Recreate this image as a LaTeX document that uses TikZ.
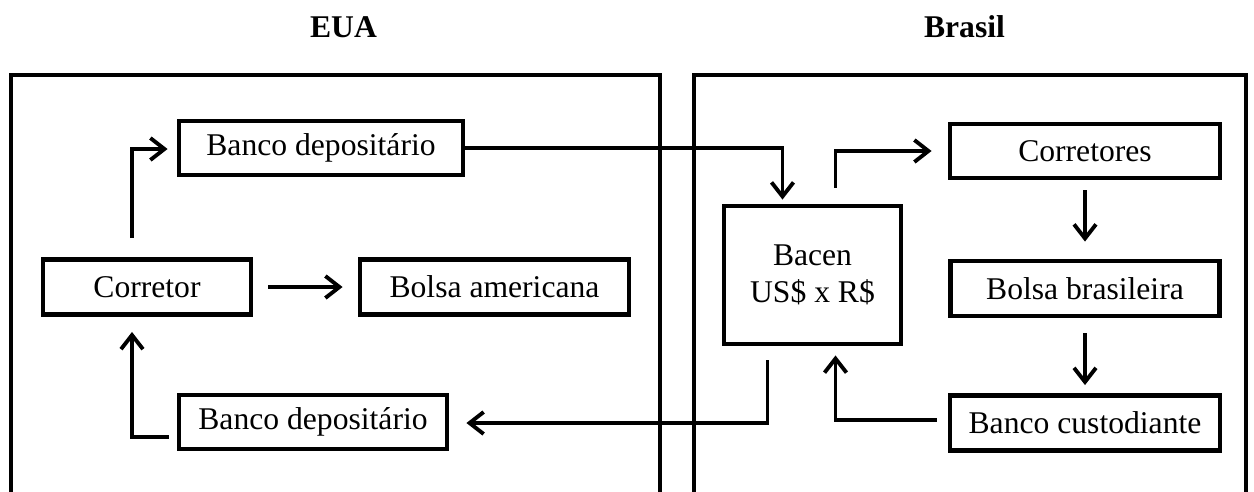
\documentclass[tikz,border=0pt]{standalone}
\usepackage{fontspec}
\setmainfont{Liberation Serif}
\usetikzlibrary{arrows.meta, positioning}

\begin{document}
\begin{tikzpicture}[x=0.02cm, y=-0.02cm, >={Straight Barb[length=8pt, width=12.5pt]},
    box/.style={draw, line width=2.8pt, inner sep=0pt, minimum height=1.1cm,
      align=center, font=\fontsize{18}{21}\selectfont},
    panel/.style={draw, line width=2.6pt, line join=miter},
    arr/.style={->, line width=2.2pt},
    title/.style={anchor=base, font=\fontsize{18}{21}\selectfont\bfseries}]
  \useasboundingbox (0,0) rectangle (1254,491);

  % paises
  \node[title] (eua) at (343.5,37) {EUA};
  \node[title] (brasil) at (964.5,37) {Brasil};
  \draw[panel] (11,495) |- (660,75) -- (660,495);
  \draw[panel] (694,495) |- (1246,75) -- (1246,495);

  % EUA
  \node[box, minimum width=5.68cm, minimum height=1.08cm] (bdtop) at (321,148) {Banco depositário};
  \node[box, minimum width=4.16cm] (corretor) at (147,287) {Corretor};
  \node[box, minimum width=5.38cm] (bolsaam) at (494.5,287) {Bolsa americana};
  \node[box, minimum width=5.36cm, minimum height=1.08cm] (bdbot) at (313,422) {Banco depositário};

  % Brasil
  \node[box, minimum width=3.54cm, minimum height=2.76cm] (bacen) at (812.5,275) {Bacen\\US\$ x R\$};
  \node[box, minimum width=5.4cm, minimum height=1.08cm] (corretores) at (1085,151) {Corretores};
  \node[box, minimum width=5.38cm] (bolsabr) at (1085,288.5) {Bolsa brasileira};
  \node[box, minimum width=5.4cm] (custodiante) at (1085,423) {Banco custodiante};

  \draw[arr] ([shift={(-15,-19)}]corretor.north) |- ([shift={(-9,1)}]bdtop.west);
  \draw[arr, shorten <=0.3cm, shorten >=0.3cm] (corretor) -- (bolsaam);
  \draw[arr] ([shift={(-8,15)}]bdbot.west) -| ([shift={(-15,15)}]corretor.south);
  \draw[arr] (bdtop.east) -| ([shift={(-30,-4)}]bacen.north);
  \draw[arr] ([shift={(23,-16)}]bacen.north) |- ([shift={(-16,0)}]corretores.west);
  \draw[arr, shorten <=0.2cm, shorten >=0.34cm] (corretores) -- (bolsabr);
  \draw[arr, shorten <=0.3cm, shorten >=0.16cm] (bolsabr) -- (custodiante);
  \draw[arr] ([shift={(-11,-3)}]custodiante.west) -| ([shift={(23,9)}]bacen.south);
  \draw[arr] ([shift={(-45,14)}]bacen.south) |- ([shift={(17,1)}]bdbot.east);
\end{tikzpicture}
\end{document}
